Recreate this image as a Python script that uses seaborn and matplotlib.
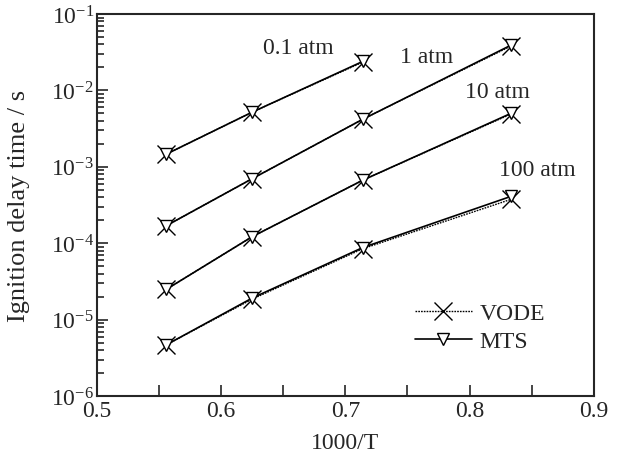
import matplotlib

matplotlib.use("Agg")

import matplotlib.pyplot as plt
import numpy as np
import seaborn as sns
from matplotlib.lines import Line2D
from matplotlib.ticker import LogLocator, MultipleLocator, NullFormatter

# 1000/T for T = 1800, 1600, 1400, 1200 K
inv_t = [0.556, 0.625, 0.714, 0.833]

pressures = ["0.1 atm", "1 atm", "10 atm", "100 atm"]
vode = {
    "0.1 atm": [1.47e-3, 5.2e-3, 2.35e-2],
    "1 atm": [1.7e-4, 7.0e-4, 4.2e-3, 3.8e-2],
    "10 atm": [2.5e-5, 1.22e-4, 6.7e-4, 4.9e-3],
    "100 atm": [4.7e-6, 1.86e-5, 8.5e-5, 3.75e-4],
}
mts = {
    "0.1 atm": [1.47e-3, 5.2e-3, 2.4e-2],
    "1 atm": [1.7e-4, 7.0e-4, 4.2e-3, 3.9e-2],
    "10 atm": [2.5e-5, 1.22e-4, 6.7e-4, 5.0e-3],
    "100 atm": [4.7e-6, 1.92e-5, 8.8e-5, 4.1e-4],
}
label_pos = {
    "0.1 atm": (0.634, 3.7e-2),
    "1 atm": (0.744, 2.8e-2),
    "10 atm": (0.796, 9.8e-3),
    "100 atm": (0.824, 9.3e-4),
}

sns.set_style("ticks")
plt.rcParams["font.family"] = ["Liberation Serif", "DejaVu Serif"]
plt.rcParams["mathtext.fontset"] = "stix"

fs = 17
dots = (0, (1.2, 0.8))

fig = plt.figure(figsize=(6.2, 4.56), dpi=100)
ax = fig.add_axes([0.156, 0.129, 0.802, 0.838])

for p in pressures:
    n = len(vode[p])
    sns.lineplot(x=inv_t[:n], y=vode[p], ax=ax, color="black", linestyle=dots,
                 linewidth=1.0, marker="x", markersize=13,
                 markeredgecolor="black", markeredgewidth=1.0)
    sns.lineplot(x=inv_t[:n], y=mts[p], ax=ax, color="black", linewidth=1.2,
                 marker="v", markersize=9, markerfacecolor="white",
                 markeredgecolor="black", markeredgewidth=1.0)
    ax.text(*label_pos[p], p, fontsize=fs, ha="left", va="center")

ax.set_yscale("log")
ax.set_xlim(0.5, 0.9)
ax.set_ylim(1e-6, 1e-1)
ax.xaxis.set_major_locator(MultipleLocator(0.1))
ax.xaxis.set_minor_locator(MultipleLocator(0.05))
ax.yaxis.set_major_locator(LogLocator(base=10, numticks=10))
ax.yaxis.set_minor_locator(LogLocator(base=10, subs=np.arange(2, 10), numticks=10))
ax.yaxis.set_minor_formatter(NullFormatter())
ax.tick_params(axis="both", which="both", direction="in", labelsize=fs,
               top=False, right=False, width=1.2)
ax.tick_params(axis="x", which="both", length=8, pad=3)
ax.tick_params(axis="y", which="major", length=8, pad=2)
ax.tick_params(axis="y", which="minor", length=5)
for s in ax.spines.values():
    s.set_linewidth(1.5)

ax.set_xlabel("1000/T", fontsize=fs, labelpad=8)
ax.set_ylabel("Ignition delay time / s", fontsize=19)
ax.yaxis.set_label_coords(-0.135, 0.5)

handles = [
    Line2D([], [], color="black", linestyle=dots, linewidth=1.0,
           marker="x", markersize=13, markeredgewidth=1.0),
    Line2D([], [], color="black", linewidth=1.2, marker="v", markersize=9,
           markerfacecolor="white", markeredgecolor="black"),
]
ax.legend(handles, ["VODE", "MTS"], loc="upper left", bbox_to_anchor=(0.64, 0.245),
          frameon=False, fontsize=fs, handlelength=2.4, handletextpad=0.34,
          labelspacing=0.27, borderpad=0, borderaxespad=0)

fig.savefig("out.png", dpi=100)
